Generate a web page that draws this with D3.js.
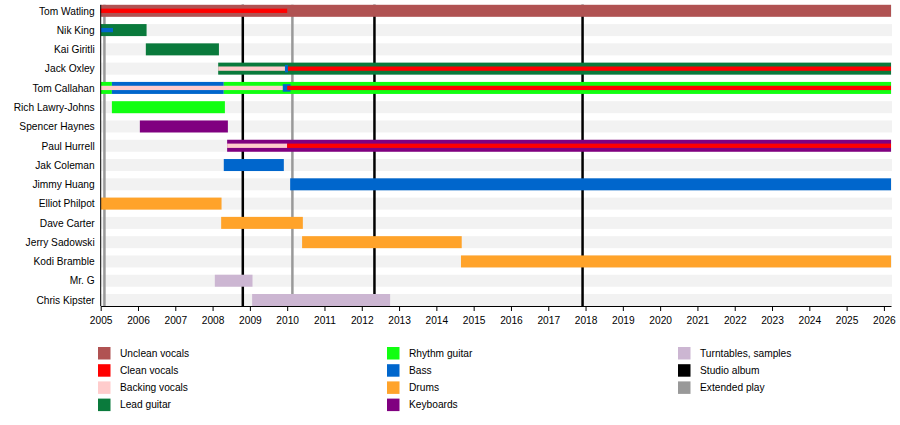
<!DOCTYPE html>
<html>
<head>
<meta charset="utf-8">
<script src="https://cdn.jsdelivr.net/npm/d3@7"></script>
<style>
  html, body { margin: 0; padding: 0; background: #fff; }
  svg { display: block; font-family: "Liberation Sans", Arial, sans-serif; }
</style>
</head>
<body>
<svg id="chart" width="900" height="425"></svg>
<script>
// ---------- DATA ----------
const START = 2005;
const END = 2026.19;

const members = [
  "Tom Watling", "Nik King", "Kai Giritli", "Jack Oxley", "Tom Callahan",
  "Rich Lawry-Johns", "Spencer Haynes", "Paul Hurrell", "Jak Coleman",
  "Jimmy Huang", "Elliot Philpot", "Dave Carter", "Jerry Sadowski",
  "Kodi Bramble", "Mr. G", "Chris Kipster"
];

const roles = [
  "Unclean vocals", "Clean vocals", "Backing vocals", "Lead guitar",
  "Rhythm guitar", "Bass", "Drums", "Keyboards", "Turntables, samples"
];
const roleColors = [
  "#b05252", "#ff0000", "#ffcccc", "#0a7a3c",
  "#11ff11", "#0066cc", "#ffa32a", "#800080", "#ccb6d2"
];

// primary instrument periods: [member, role, from, to]
const mainSpans = [
  ["Tom Watling", "Unclean vocals", 2005, END],
  ["Nik King", "Lead guitar", 2005, 2006.23],
  ["Kai Giritli", "Lead guitar", 2006.21, 2008.17],
  ["Jack Oxley", "Lead guitar", 2008.15, END],
  ["Tom Callahan", "Rhythm guitar", 2005, 2005.3],
  ["Tom Callahan", "Bass", 2005.3, 2008.3],
  ["Tom Callahan", "Rhythm guitar", 2008.3, END],
  ["Rich Lawry-Johns", "Rhythm guitar", 2005.3, 2008.33],
  ["Spencer Haynes", "Keyboards", 2006.05, 2008.41],
  ["Paul Hurrell", "Keyboards", 2008.39, END],
  ["Jak Coleman", "Bass", 2008.3, 2009.91],
  ["Jimmy Huang", "Bass", 2010.08, END],
  ["Elliot Philpot", "Drums", 2005, 2008.24],
  ["Dave Carter", "Drums", 2008.23, 2010.42],
  ["Jerry Sadowski", "Drums", 2010.4, 2014.68],
  ["Kodi Bramble", "Drums", 2014.66, END],
  ["Mr. G", "Turntables, samples", 2008.06, 2009.07],
  ["Chris Kipster", "Turntables, samples", 2009.06, 2012.76]
];

// short transitional periods: [member, role, from, to]
const transitionSpans = [
  ["Jack Oxley", "Bass", 2009.94, 2010.02],
  ["Tom Callahan", "Bass", 2009.88, 2010.09]
];

// secondary roles: [member, role, from, to]
const sideSpans = [
  ["Tom Watling", "Clean vocals", 2005, 2010.0],
  ["Nik King", "Bass", 2005, 2005.33],
  ["Jack Oxley", "Backing vocals", 2008.15, 2009.94],
  ["Jack Oxley", "Clean vocals", 2010.02, END],
  ["Tom Callahan", "Backing vocals", 2005, 2009.88],
  ["Tom Callahan", "Clean vocals", 2010.0, END],
  ["Paul Hurrell", "Backing vocals", 2008.39, 2010.0],
  ["Paul Hurrell", "Clean vocals", 2010.0, END]
];

const studioAlbums = [2008.81, 2012.34, 2017.92];
const extendedPlays = [2005.1, 2010.14];

const yearTicks = d3.range(2005, 2027);

const legendItems = [
  "Unclean vocals", "Clean vocals", "Backing vocals", "Lead guitar",
  "Rhythm guitar", "Bass", "Drums", "Keyboards",
  "Turntables, samples", "Studio album", "Extended play"
];
const legendColors = roleColors.concat(["#000000", "#999999"]);

// ---------- DRAWING ----------
const svg = d3.select("#chart");
const color = d3.scaleOrdinal().domain(legendItems).range(legendColors);

const x = d3.scaleLinear().domain([START, END]).range([100.7, 891]);
const y = d3.scalePoint().domain(members).range([10.8, 300]);
const barH = 12, thinH = 4.3, midH = 7.5;
const axisY = y(members[members.length - 1]) + barH / 2;
const topY = y(members[0]) - barH / 2;

// background stripes
svg.append("g").selectAll("rect").data(members).join("rect")
  .attr("x", x(START))
  .attr("width", x(END) - x(START) + 1)
  .attr("y", d => y(d) - barH / 2)
  .attr("height", barH)
  .attr("fill", "#f2f2f2");

// release lines
const lines = svg.append("g");
lines.selectAll("line.ep").data(extendedPlays).join("line")
  .attr("class", "ep")
  .attr("x1", d => x(d)).attr("x2", d => x(d))
  .attr("y1", topY).attr("y2", axisY)
  .attr("stroke", color("Extended play")).attr("stroke-width", 2.5);
lines.selectAll("line.sa").data(studioAlbums).join("line")
  .attr("class", "sa")
  .attr("x1", d => x(d)).attr("x2", d => x(d))
  .attr("y1", topY).attr("y2", axisY)
  .attr("stroke", color("Studio album")).attr("stroke-width", 2.5);

// bars
function drawSpans(data, h) {
  svg.append("g").selectAll("rect").data(data).join("rect")
    .attr("x", d => x(d[2]))
    .attr("width", d => Math.max(0, x(d[3]) - x(d[2])))
    .attr("y", d => y(d[0]) - h / 2)
    .attr("height", h)
    .attr("fill", d => color(d[1]));
}
drawSpans(mainSpans, barH);
drawSpans(transitionSpans, midH);
drawSpans(sideSpans, thinH);

// bottom axis
const xAxis = d3.axisBottom(x)
  .tickValues(yearTicks)
  .tickFormat(d3.format("d"))
  .tickSize(5)
  .tickSizeOuter(0)
  .tickPadding(6);
const gx = svg.append("g")
  .attr("transform", `translate(0,${axisY})`)
  .call(xAxis);
gx.selectAll("text").attr("font-size", "10.2px").attr("fill", "#000")
  .attr("font-family", '"Liberation Sans", Arial, sans-serif');
gx.selectAll("line,path").attr("stroke", "#000");

// left axis (labels + line)
const yAxis = d3.axisLeft(y).tickSize(0).tickPadding(6);
const gy = svg.append("g")
  .attr("transform", `translate(${x(START)},0)`)
  .call(yAxis);
gy.select(".domain").remove();
gy.selectAll("text").attr("font-size", "10.2px").attr("fill", "#000")
  .attr("font-family", '"Liberation Sans", Arial, sans-serif');
gy.append("line")
  .attr("x1", 0).attr("x2", 0)
  .attr("y1", topY).attr("y2", axisY)
  .attr("stroke", "#000");

// legend
const legendCols = [98, 387, 678];
const legendRowY = 353, legendStep = 17.2, perCol = 4;
const lg = svg.append("g").selectAll("g").data(legendItems).join("g")
  .attr("transform", (d, i) => `translate(${legendCols[Math.floor(i / perCol)]},${legendRowY + (i % perCol) * legendStep})`);
lg.append("rect")
  .attr("x", 0).attr("y", -6).attr("width", 12.5).attr("height", 12.5)
  .attr("fill", d => color(d));
lg.append("text")
  .attr("x", 22).attr("y", 0).attr("dy", "0.35em")
  .attr("font-size", "10.2px")
  .text(d => d);
</script>
</body>
</html>
